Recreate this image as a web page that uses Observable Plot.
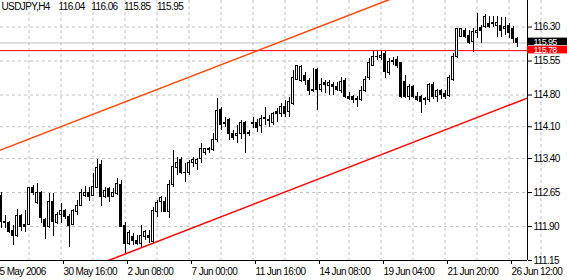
<!DOCTYPE html>
<html><head><meta charset="utf-8">
<script src="https://cdn.jsdelivr.net/npm/d3@7"></script>
<script src="https://cdn.jsdelivr.net/npm/@observablehq/plot@0.6"></script>
<style>
html,body{margin:0;padding:0;background:#fff;}
svg text{letter-spacing:-0.6px;}
</style></head><body><div id="chart"></div>
<script>
// ---- data (USDJPY, H4) ----
const symbol = "USDJPY,H4";
const open = [112.58,111.97,111.97,111.81,111.68,112.14,111.94,111.94,112.76,112.41,112.65,112.05,111.88,112.43,111.97,112.16,112.25,112.10,111.94,112.23,112.36,112.58,112.63,112.58,112.76,113.25,112.54,112.72,112.56,112.61,112.81,111.92,111.52,111.66,111.59,111.52,111.66,111.68,111.55,112.23,112.43,112.45,112.23,112.81,113.20,113.36,113.09,113.07,113.29,113.27,113.38,113.53,113.60,113.58,113.80,114.46,114.19,114.24,113.93,113.89,113.95,114.19,113.97,114.19,114.19,114.11,114.30,114.22,114.19,114.42,114.39,114.53,114.42,114.61,115.14,115.12,115.21,115.10,114.92,115.36,114.92,115.06,115.01,115.03,114.97,114.90,115.10,114.75,114.75,114.72,114.68,114.88,115.17,115.45,115.65,115.61,115.70,115.28,115.56,115.58,115.50,115.08,114.75,114.97,114.75,114.75,114.68,114.70,115.03,114.75,114.88,114.83,114.77,115.14,115.65,116.09,116.22,116.11,115.96,116.16,116.27,116.29,116.36,116.38,116.33,116.33,116.25,116.33,116.25,116.04];
const high = [112.65,112.14,112.01,111.92,112.28,112.16,112.25,112.76,112.81,112.85,112.67,112.08,112.63,112.63,112.21,112.41,112.28,112.16,112.28,112.47,112.72,112.78,112.76,113.07,113.38,113.36,112.76,112.76,112.74,112.96,112.92,111.99,111.81,111.75,111.70,111.92,111.81,111.81,112.32,112.47,112.56,112.54,112.92,113.58,113.42,113.42,113.29,113.36,113.42,113.40,113.73,113.62,113.64,113.95,114.72,114.53,114.30,114.28,114.02,114.13,114.24,114.22,114.02,114.30,114.26,114.35,114.53,114.35,114.42,114.50,114.61,114.68,114.75,115.34,115.45,115.45,115.30,115.17,115.39,115.39,115.17,115.12,115.12,115.08,115.08,115.19,115.17,114.86,114.79,114.77,114.99,115.21,115.61,115.76,115.76,115.76,115.76,115.61,115.63,115.65,115.52,115.23,115.03,115.01,114.86,114.79,114.75,115.06,115.08,114.92,114.92,114.90,115.23,115.72,116.27,116.27,116.27,116.22,116.27,116.60,116.33,116.58,116.53,116.53,116.53,116.51,116.51,116.38,116.31,116.06];
const low = [111.86,111.86,111.75,111.48,111.66,111.79,111.77,111.92,112.58,112.39,111.97,111.61,111.86,111.68,111.94,111.97,112.05,111.44,111.92,112.14,112.34,112.54,112.45,112.56,112.74,112.34,112.52,112.43,112.54,112.58,111.88,111.30,111.48,111.48,111.48,111.44,111.59,111.52,111.52,112.10,112.21,112.21,112.08,112.76,113.02,113.05,112.87,113.02,113.20,113.14,113.29,113.47,113.51,113.56,113.75,114.02,114.08,113.80,113.80,113.73,113.82,113.51,113.89,114.06,113.97,113.95,114.13,114.08,114.13,114.19,114.30,114.30,114.30,114.57,115.12,115.08,115.01,114.79,114.86,114.46,114.86,114.83,114.79,114.79,114.88,114.83,114.72,114.68,114.61,114.53,114.66,114.86,115.12,115.43,115.56,115.56,115.17,115.23,115.45,115.39,114.72,114.72,114.68,114.72,114.66,114.39,114.57,114.64,114.70,114.64,114.70,114.70,114.75,115.10,115.61,116.07,116.05,115.91,115.74,116.05,115.94,116.27,116.27,116.29,116.07,116.07,116.11,116.05,115.94,115.85];
const close = [111.99,111.99,111.77,111.68,112.14,111.90,111.90,112.74,112.63,112.65,112.08,111.88,112.45,111.99,112.16,112.25,112.10,111.92,112.25,112.36,112.65,112.65,112.56,112.78,113.20,112.54,112.69,112.56,112.63,112.83,111.90,111.52,111.75,111.59,111.52,111.70,111.77,111.64,112.25,112.41,112.52,112.23,112.81,113.22,113.31,113.07,113.07,113.29,113.36,113.36,113.60,113.60,113.58,113.80,114.44,114.15,114.17,113.93,113.86,113.95,114.19,113.93,113.95,114.17,114.08,114.28,114.28,114.26,114.39,114.39,114.53,114.39,114.64,115.17,115.43,115.41,115.10,114.90,114.88,114.92,115.03,115.03,115.06,114.97,114.92,115.08,114.75,114.72,114.70,114.70,114.88,115.14,115.50,115.65,115.63,115.67,115.30,115.52,115.52,115.43,114.75,114.75,114.97,114.75,114.68,114.64,114.72,115.03,114.75,114.88,114.79,114.75,115.17,115.63,116.25,116.25,116.09,115.94,116.20,116.22,116.22,116.53,116.31,116.36,116.40,116.22,116.29,116.16,116.03,115.95];

const yTicks = [111.15, 111.90, 112.65, 113.40, 114.10, 114.80, 115.55, 116.30];
const xTickBars = [-1, 15, 31, 47, 63, 79, 95, 111, 127];
const xTickLabels = ["5 May 2006", "30 May 16:00", "2 Jun 08:00", "7 Jun 00:00", "11 Jun 16:00", "14 Jun 08:00", "19 Jun 04:00", "21 Jun 20:00", "26 Jun 12:00"];
const levelPrice = 115.78;   // horizontal line
const bidPrice = 115.95;     // current bid
const upperTrend = [{bar: -5, price: 113.42}, {bar: 135, price: 118.20}];
const lowerTrend = [{bar: -5, price: 110.06}, {bar: 135, price: 114.85}];

// ---- build ----
const bars = open.map((o, i) => ({i, o, h: high[i], l: low[i], c: close[i]}));
const last = bars[bars.length - 1];
const fmt = d3.format(".2f");
const title = symbol + "\u00a0\u00a0\u00a0\u00a0" + [last.o, last.h, last.l, last.c].map(fmt).join("\u00a0\u00a0\u00a0");
const xDomain = [-0.125, 131.625];
const yDomain = [111.15, 116.8856];
const gridBars = xTickBars.flatMap(b => [b, b + 8]);
const pxPrice = (yDomain[1] - yDomain[0]) / 260;
const boxes = [
  {p: bidPrice, bg: "black", shift: 1},
  {p: levelPrice, bg: "#ff0000", shift: 0.5}
];
const FONT = "'Liberation Sans', Arial, sans-serif";

const chart = Plot.plot({
  width: 567, height: 280,
  marginLeft: 0, marginRight: 40, marginTop: 0, marginBottom: 20,
  style: {fontFamily: FONT, fontSize: "10px", color: "black", background: "white", overflow: "visible"},
  x: {domain: xDomain, axis: null},
  y: {domain: yDomain, axis: null},
  marks: [
    Plot.gridY(yTicks, {stroke: "#c0c0c0", strokeOpacity: 1, strokeDasharray: "3,3"}),
    Plot.gridX(gridBars, {stroke: "#c0c0c0", strokeOpacity: 1, strokeDasharray: "3,3"}),
    Plot.ruleY([bidPrice], {stroke: "#c0c0c0"}),
    Plot.ruleY([levelPrice], {stroke: "#ff0000"}),
    Plot.line(upperTrend, {x: "bar", y: "price", stroke: "#ff4500", clip: true}),
    Plot.line(lowerTrend, {x: "bar", y: "price", stroke: "#ff0000", clip: true}),
    Plot.ruleX(bars, {x: "i", y1: "l", y2: "h", stroke: "black", shapeRendering: "crispEdges"}),
    Plot.rect(bars, {x1: d => d.i - 0.25, x2: d => d.i + 0.25, y1: "o", y2: "c",
      fill: d => d.c >= d.o ? "white" : "black", stroke: "black", shapeRendering: "crispEdges"}),
    Plot.ruleX([xDomain[1]], {stroke: "black"}),
    Plot.ruleY([yDomain[0]], {stroke: "black"}),
    Plot.axisY({ticks: yTicks, anchor: "right", tickSize: 4, tickPadding: 2, tickFormat: fmt, label: null}),
    Plot.axisX({ticks: xTickBars, anchor: "bottom", tickSize: 4, tickPadding: 3, textAnchor: "start", dx: 2.5,
      tickFormat: d => xTickLabels[xTickBars.indexOf(d)], label: null}),
    Plot.rect(boxes, {x1: xDomain[1], x2: xDomain[1] + 10,
      y1: d => d.p + (d.shift - 3.8) * pxPrice, y2: d => d.p + (d.shift + 3.8) * pxPrice, fill: "bg"}),
    Plot.text(boxes, {x: xDomain[1], y: d => d.p + d.shift * pxPrice, text: d => fmt(d.p), dx: 6,
      textAnchor: "start", fill: "white", fontSize: 9}),
    Plot.text([title], {frameAnchor: "top-left", dx: 1, dy: 2, lineAnchor: "top", textAnchor: "start", fill: "black"})
  ]
});
document.getElementById("chart").appendChild(chart);
</script></body></html>
